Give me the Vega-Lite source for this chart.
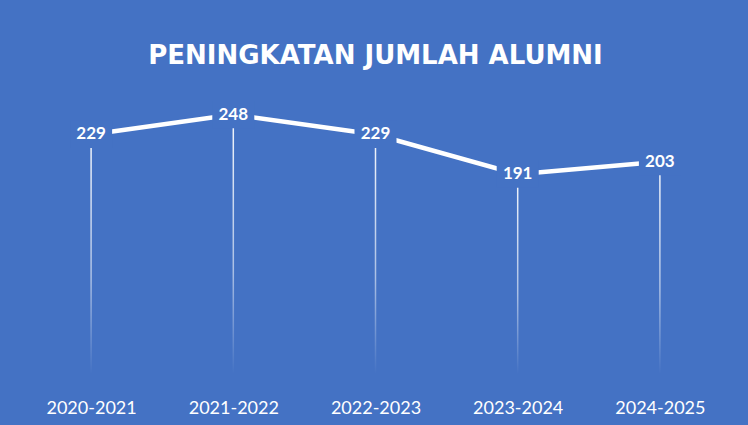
{
  "$schema": "https://vega.github.io/schema/vega-lite/v6.json",
  "width": 711,
  "height": 273,
  "autosize": {"type": "none"},
  "padding": {"left": 20, "top": 101, "right": 17, "bottom": 51},
  "background": "#4472C4",
  "config": {"view": {"stroke": null}},
  "title": {
    "text": "PENINGKATAN JUMLAH ALUMNI",
    "color": "#FFFFFF",
    "font": "DejaVu Sans",
    "fontWeight": "bold",
    "fontSize": 26,
    "anchor": "middle",
    "offset": 32
  },
  "data": {
    "values": [
      {"tahun": "2020-2021", "alumni": 229},
      {"tahun": "2021-2022", "alumni": 248},
      {"tahun": "2022-2023", "alumni": 229},
      {"tahun": "2023-2024", "alumni": 191},
      {"tahun": "2024-2025", "alumni": 203}
    ]
  },
  "encoding": {
    "x": {
      "field": "tahun",
      "type": "ordinal",
      "scale": {"type": "point", "padding": 0.5},
      "axis": {
        "title": null,
        "labelAngle": 0,
        "domain": false,
        "ticks": false,
        "grid": false,
        "labelColor": "#FFFFFF",
        "labelFont": "Lato",
        "labelFontSize": 18,
        "labelPadding": 25
      }
    },
    "y": {
      "field": "alumni",
      "type": "quantitative",
      "scale": {"domain": [0, 261]},
      "axis": null
    }
  },
  "layer": [
    {
      "mark": {
        "type": "bar",
        "width": 1.5,
        "fill": {
          "gradient": "linear",
          "x1": 0, "y1": 0, "x2": 0, "y2": 1,
          "stops": [
            {"offset": 0, "color": "rgba(255,255,255,0.95)"},
            {"offset": 0.6, "color": "rgba(255,255,255,0.55)"},
            {"offset": 1, "color": "rgba(255,255,255,0)"}
          ]
        }
      }
    },
    {
      "mark": {"type": "line", "color": "#FFFFFF", "strokeWidth": 4.5, "strokeCap": "butt"}
    },
    {
      "mark": {
        "type": "point",
        "shape": "M-1,-0.65H1V0.65H-1Z",
        "size": 1764,
        "filled": true,
        "fill": "#4472C4",
        "opacity": 1,
        "strokeWidth": 0
      }
    },
    {
      "mark": {
        "type": "text",
        "color": "#FFFFFF",
        "font": "Lato",
        "fontWeight": "bold",
        "fontSize": 17,
        "baseline": "middle",
        "align": "center"
      },
      "encoding": {"text": {"field": "alumni", "type": "quantitative"}}
    }
  ]
}
